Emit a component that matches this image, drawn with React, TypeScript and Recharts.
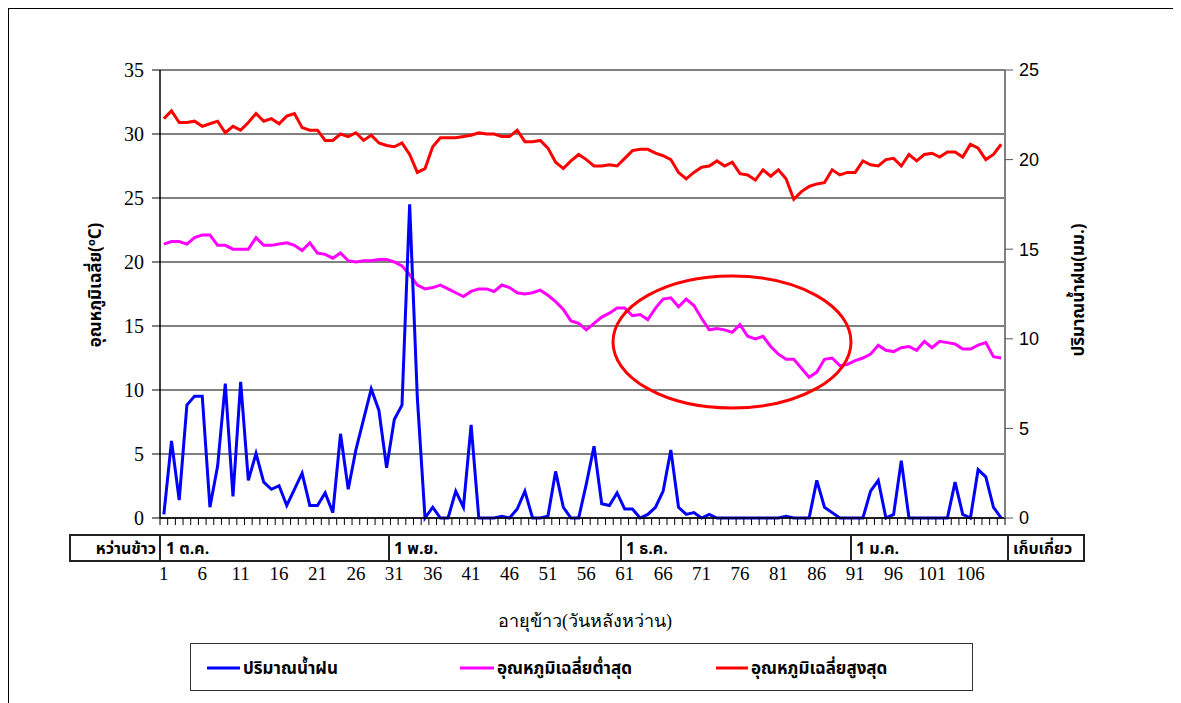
import React from 'react';
import { LineChart, Line, XAxis, YAxis, CartesianGrid } from 'recharts';

// days after sowing (x categories)
const days = Array.from({ length: 110 }, (_, i) => i + 1);
const tickDays = [1, 6, 11, 16, 21, 26, 31, 36, 41, 46, 51, 56, 61, 66, 71, 76, 81, 86, 91, 96, 101, 106];

// rainfall (mm), right axis
const rain = [
  0.2, 4.3, 1.0, 6.3, 6.8, 6.8, 0.6, 2.9, 7.5, 1.2,
  7.6, 2.1, 3.6, 2.0, 1.6, 1.8, 0.7, 1.6, 2.5, 0.7,
  0.7, 1.4, 0.3, 4.7, 1.6, 3.8, 5.5, 7.2, 6.0, 2.8,
  5.5, 6.3, 17.5, 6.7, 0, 0.6, 0, 0, 1.5, 0.6,
  5.2, 0, 0, 0, 0.1, 0, 0.5, 1.5, 0, 0,
  0.1, 2.6, 0.6, 0, 0, 1.9, 4.0, 0.8, 0.7, 1.4,
  0.5, 0.5, 0, 0.2, 0.6, 1.5, 3.8, 0.6, 0.2, 0.3,
  0, 0.2, 0, 0, 0, 0, 0, 0, 0, 0,
  0, 0.1, 0, 0, 0, 2.1, 0.6, 0.3, 0, 0,
  0, 0, 1.5, 2.1, 0, 0.2, 3.2, 0, 0, 0,
  0, 0, 0, 2.0, 0.2, 0, 2.7, 2.3, 0.6, 0,
];

// average minimum temperature (°C)
const minTemp = [
  21.4, 21.6, 21.6, 21.4, 21.9, 22.1, 22.1, 21.3, 21.3, 21.0,
  21.0, 21.0, 21.9, 21.3, 21.3, 21.4, 21.5, 21.3, 20.9, 21.5,
  20.7, 20.6, 20.3, 20.7, 20.1, 20.0, 20.1, 20.1, 20.2, 20.2,
  20.0, 19.7, 19.0, 18.2, 17.9, 18.0, 18.2, 17.9, 17.6, 17.3,
  17.7, 17.9, 17.9, 17.7, 18.2, 18.0, 17.6, 17.5, 17.6, 17.8,
  17.4, 16.9, 16.3, 15.4, 15.2, 14.7, 15.2, 15.7, 16.0, 16.4,
  16.4, 15.8, 15.9, 15.5, 16.4, 17.1, 17.2, 16.5, 17.1, 16.6,
  15.6, 14.7, 14.8, 14.7, 14.5, 15.1, 14.2, 14.0, 14.2, 13.4,
  12.8, 12.4, 12.4, 11.7, 11.0, 11.4, 12.4, 12.5, 11.9, 12.0,
  12.3, 12.5, 12.8, 13.5, 13.1, 13.0, 13.3, 13.4, 13.1, 13.8,
  13.3, 13.8, 13.7, 13.6, 13.2, 13.2, 13.5, 13.7, 12.6, 12.5,
];

// average maximum temperature (°C)
const maxTemp = [
  31.2, 31.8, 30.9, 30.9, 31.0, 30.6, 30.8, 31.0, 30.1, 30.6,
  30.3, 30.9, 31.6, 31.0, 31.2, 30.8, 31.4, 31.6, 30.5, 30.3,
  30.3, 29.5, 29.5, 30.0, 29.8, 30.1, 29.5, 29.9, 29.3, 29.1,
  29.0, 29.3, 28.4, 27.0, 27.3, 29.0, 29.7, 29.7, 29.7, 29.8,
  29.9, 30.1, 30.0, 30.0, 29.8, 29.8, 30.3, 29.4, 29.4, 29.5,
  28.9, 27.8, 27.3, 27.9, 28.4, 28.0, 27.5, 27.5, 27.6, 27.5,
  28.1, 28.7, 28.8, 28.8, 28.5, 28.3, 28.0, 27.0, 26.5, 27.0,
  27.4, 27.5, 27.9, 27.5, 27.8, 26.9, 26.8, 26.4, 27.2, 26.7,
  27.2, 26.5, 24.9, 25.5, 25.9, 26.1, 26.2, 27.2, 26.8, 27.0,
  27.0, 27.9, 27.6, 27.5, 28.0, 28.1, 27.5, 28.4, 27.9, 28.4,
  28.5, 28.2, 28.6, 28.6, 28.2, 29.2, 28.9, 28.0, 28.4, 29.2,
];

const tempTicks = [0, 5, 10, 15, 20, 25, 30, 35];
const rainTicks = [0, 5, 10, 15, 20, 25];

const monthLabels = ['1 ต.ค.', '1 พ.ย.', '1 ธ.ค.', '1 ม.ค.'];
const sowLabel = 'หว่านข้าว';
const harvestLabel = 'เก็บเกี่ยว';

const seriesNames = {
  rain: 'ปริมาณน้ำฝน',
  tmin: 'อุณหภูมิเฉลี่ยต่ำสุด',
  tmax: 'อุณหภูมิเฉลี่ยสูงสุด',
};

const data = days.map((d, i) => ({ day: d, rain: rain[i], tmin: minTemp[i], tmax: maxTemp[i] }));

const SERIF = '"Liberation Serif", "Times New Roman", serif';
const SANS = '"Liberation Sans", Arial, sans-serif';
const THAI = 'Tahoma, "Noto Sans Thai", "Noto Sans", sans-serif';

const PLOT_L = 160;
const PLOT_R = 1005;
const HALF = (PLOT_R - PLOT_L) / days.length / 2;

function DayTick(props: any) {
  const { x, y, payload, index } = props;
  const d = payload.value;
  return (
    <g>
      <line x1={x - HALF} x2={x - HALF} y1={y} y2={y + 7} stroke="#000" />
      {index === days.length - 1 && <line x1={x + HALF} x2={x + HALF} y1={y} y2={y + 7} stroke="#000" />}
      {tickDays.includes(d) && (
        <text x={x} y={y + 62} textAnchor="middle" fontFamily={SERIF} fontSize={19} fill="#000">
          {d}
        </text>
      )}
    </g>
  );
}

export default function App() {
  // table dividers sit on the day boundaries (after day 30, 60, 90)
  const dividers = [PLOT_L, 389, 621, 851, 1008];
  const monthX = [166, 394, 626, 856];

  return (
    <div
      style={{
        position: 'relative',
        width: 1173,
        height: 695,
        borderTop: '1px solid #000',
        borderLeft: '1px solid #000',
        boxSizing: 'border-box',
        background: '#fff',
      }}
    >
      <div style={{ position: 'absolute', left: -9, top: -9 }}>
        <LineChart
          width={1181}
          height={703}
          data={data}
          margin={{ top: 70, left: PLOT_L - 60, right: 1181 - PLOT_R - 60, bottom: 703 - 518 - 30 }}
        >
          <CartesianGrid yAxisId="left" vertical={false} stroke="#000" strokeWidth={1} />
          <XAxis
            dataKey="day"
            type="category"
            interval={0}
            height={30}
            tickLine={false}
            tickSize={0}
            tickMargin={0}
            padding={{ left: HALF, right: HALF }}
            axisLine={{ stroke: '#000', strokeWidth: 1.5 }}
            tick={<DayTick />}
          />
          <YAxis
            yAxisId="left"
            domain={[0, 35]}
            ticks={tempTicks}
            width={60}
            tickSize={8}
            tickMargin={8}
            axisLine={{ stroke: '#000', strokeWidth: 1.5 }}
            tickLine={{ stroke: '#000' }}
            tick={{ fill: '#000', fontSize: 20, fontFamily: SERIF }}
          />
          <YAxis
            yAxisId="right"
            orientation="right"
            domain={[0, 25]}
            ticks={rainTicks}
            width={60}
            tickSize={8}
            tickMargin={6}
            axisLine={{ stroke: '#808080', strokeWidth: 2 }}
            tickLine={{ stroke: '#555' }}
            tick={{ fill: '#000', fontSize: 18, fontFamily: SANS }}
          />
          <Line yAxisId="left" type="linear" dataKey="tmin" name={seriesNames.tmin} stroke="#ff00ff" strokeWidth={3} dot={false} isAnimationActive={false} />
          <Line yAxisId="left" type="linear" dataKey="tmax" name={seriesNames.tmax} stroke="#ff0000" strokeWidth={3} dot={false} isAnimationActive={false} />
          <Line yAxisId="right" type="linear" dataKey="rain" name={seriesNames.rain} stroke="#0000ff" strokeWidth={3} dot={false} isAnimationActive={false} />
        </LineChart>

        <svg width={1181} height={703} style={{ position: 'absolute', left: 0, top: 0, pointerEvents: 'none' }}>
          {/* annotation ellipse */}
          <ellipse cx={732} cy={342} rx={119} ry={66} fill="none" stroke="#ff0000" strokeWidth={3} />

          {/* axis titles */}
          <text transform="translate(101,285) rotate(-90)" textAnchor="middle" fontFamily={THAI} fontWeight="bold" fontSize={17} fill="#000">
            อุณหภูมิเฉลี่ย(<tspan dy={-6} fontSize={11}>o</tspan><tspan dy={6}>C)</tspan>
          </text>
          <text transform="translate(1084,290) rotate(-90)" textAnchor="middle" fontFamily={THAI} fontWeight="bold" fontSize={17} fill="#000">
            ปริมาณน้ำฝน(มม.)
          </text>
          <text x={585} y={627} textAnchor="middle" fontFamily={SERIF} fontSize={18} fill="#000">
            อายุข้าว(วันหลังหว่าน)
          </text>

          {/* season table row */}
          <rect x={70} y={535} width={1014} height={26} fill="none" stroke="#222" strokeWidth={2} />
          {dividers.map((x) => (
            <line key={x} x1={x} x2={x} y1={535} y2={561} stroke="#222" strokeWidth={2} />
          ))}
          <text x={156} y={554} textAnchor="end" fontFamily={THAI} fontWeight="bold" fontSize={16} fill="#000">{sowLabel}</text>
          {monthLabels.map((m, i) => (
            <text key={m} x={monthX[i]} y={554} fontFamily={THAI} fontWeight="bold" fontSize={16} fill="#000">{m}</text>
          ))}
          <text x={1013} y={554} fontFamily={THAI} fontWeight="bold" fontSize={16} fill="#000">{harvestLabel}</text>

          {/* legend */}
          <rect x={190.5} y={643.5} width={782} height={47} fill="none" stroke="#333" strokeWidth={1} />
          <line x1={207} x2={240} y1={668} y2={668} stroke="#0000ff" strokeWidth={3} />
          <text x={243} y={674} fontFamily={THAI} fontWeight="bold" fontSize={17} fill="#000">{seriesNames.rain}</text>
          <line x1={460} x2={494} y1={668} y2={668} stroke="#ff00ff" strokeWidth={3} />
          <text x={497} y={674} fontFamily={THAI} fontWeight="bold" fontSize={17} fill="#000">{seriesNames.tmin}</text>
          <line x1={716} x2={748} y1={668} y2={668} stroke="#ff0000" strokeWidth={3} />
          <text x={751} y={674} fontFamily={THAI} fontWeight="bold" fontSize={17} fill="#000">{seriesNames.tmax}</text>
        </svg>
      </div>
    </div>
  );
}
